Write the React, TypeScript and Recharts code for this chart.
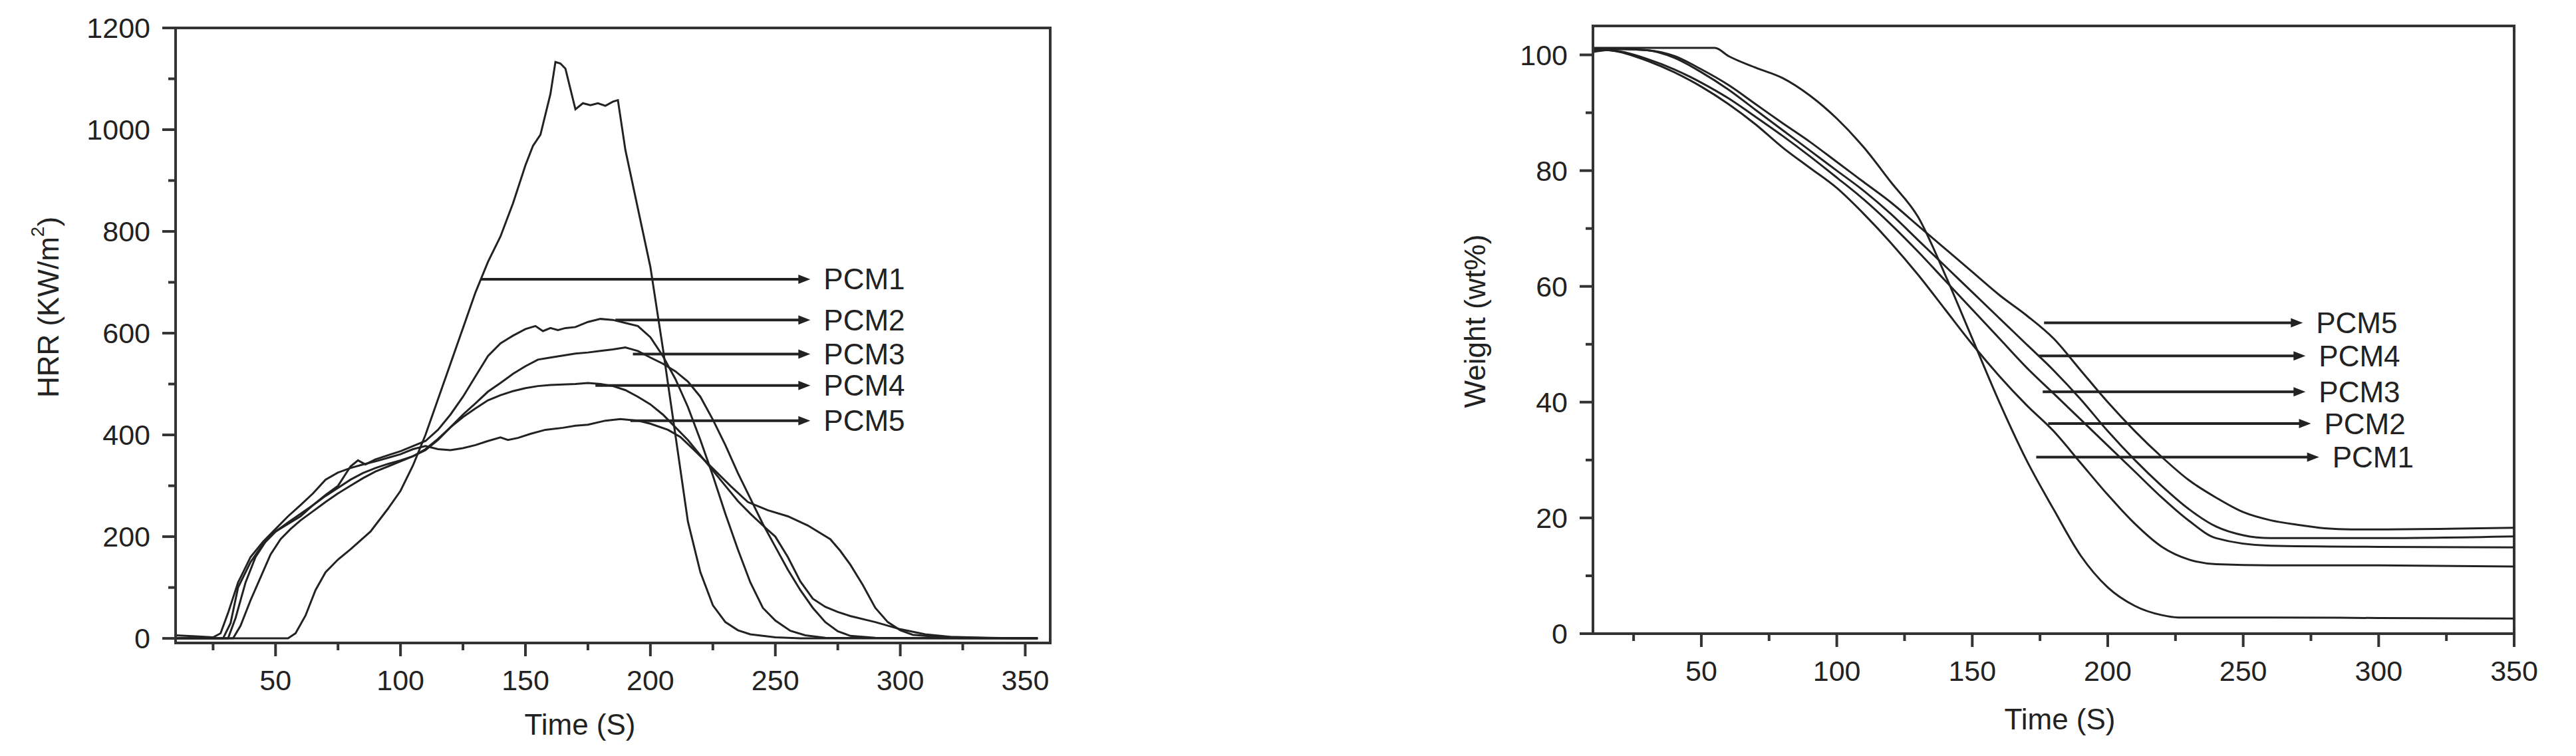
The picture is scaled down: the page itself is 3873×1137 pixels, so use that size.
import React from "react";
import { LineChart, Line, XAxis, YAxis, ReferenceLine, ReferenceArea } from "recharts";

const INK = "#222";
const AXIS = "#333";
const FONT = "'Liberation Sans', Arial, sans-serif";

// ---- HRR (left panel) ----
const pcm1HrrTime = [10, 55, 58, 62, 66, 70, 75, 80, 88, 95, 100, 105, 110, 115, 120, 125, 130, 135, 140, 145, 150, 153, 156, 160, 162, 164, 166, 168, 170, 173, 176, 179, 182, 185, 187, 190, 195, 200, 205, 210, 215, 220, 225, 230, 235, 240, 250, 260, 355];
const pcm1Hrr = [0, 0, 10, 45, 95, 130, 155, 175, 210, 255, 290, 340, 400, 470, 540, 610, 680, 740, 790, 855, 930, 968, 990, 1070, 1133, 1130, 1120, 1080, 1040, 1052, 1048, 1052, 1047, 1055, 1058, 960, 845, 730, 570, 400, 230, 130, 65, 32, 16, 8, 2, 0, 0];

const pcm2HrrTime = [10, 29, 32, 35, 40, 45, 50, 55, 60, 65, 70, 75, 80, 83, 86, 90, 95, 100, 105, 110, 115, 120, 125, 130, 135, 140, 145, 150, 154, 157, 160, 163, 166, 170, 175, 180, 185, 190, 195, 200, 205, 210, 215, 220, 225, 230, 235, 240, 245, 250, 256, 262, 270, 355];
const pcm2Hrr = [0, 0, 30, 100, 150, 185, 210, 225, 240, 262, 282, 300, 338, 350, 342, 352, 360, 368, 378, 388, 410, 440, 475, 515, 555, 580, 595, 608, 614, 604, 610, 606, 610, 612, 622, 628, 626, 620, 614, 592, 555, 510, 455, 390, 320, 245, 175, 110, 60, 35, 15, 6, 1, 0];

const pcm3HrrTime = [10, 33, 36, 40, 44, 48, 52, 56, 60, 65, 70, 75, 80, 85, 90, 95, 100, 105, 110, 115, 120, 125, 130, 135, 140, 145, 150, 155, 160, 165, 170, 175, 180, 185, 190, 195, 200, 205, 210, 215, 220, 225, 230, 235, 240, 245, 250, 255, 260, 265, 270, 275, 280, 290, 355];
const pcm3Hrr = [0, 0, 25, 75, 120, 165, 195, 215, 232, 250, 268, 285, 300, 315, 328, 338, 348, 358, 370, 390, 415, 440, 462, 485, 502, 520, 535, 548, 552, 556, 560, 562, 565, 568, 572, 565, 552, 540, 525, 505, 475, 430, 380, 325, 275, 225, 180, 135, 95, 60, 32, 14, 5, 1, 0];

const pcm4HrrTime = [10, 31, 34, 38, 42, 46, 50, 55, 60, 65, 70, 75, 80, 85, 90, 95, 100, 105, 110, 115, 120, 125, 130, 135, 140, 145, 150, 155, 160, 165, 170, 175, 180, 185, 190, 195, 200, 205, 210, 215, 220, 225, 230, 235, 240, 245, 250, 255, 260, 265, 270, 275, 280, 290, 300, 310, 320, 335, 355];
const pcm4Hrr = [0, 0, 40, 110, 160, 190, 210, 228, 245, 262, 280, 296, 312, 325, 335, 343, 350, 358, 372, 392, 415, 435, 452, 468, 478, 486, 492, 496, 498, 499, 500, 502, 500, 496, 488, 475, 460, 440, 415, 390, 360, 330, 300, 270, 245, 222, 200, 160, 112, 78, 62, 52, 44, 32, 18, 8, 3, 1, 0];

const pcm5HrrTime = [10, 18, 25, 28, 31, 35, 40, 45, 50, 55, 60, 65, 70, 75, 80, 85, 90, 95, 100, 105, 110, 115, 120, 125, 130, 135, 140, 143, 147, 152, 158, 165, 170, 175, 182, 188, 195, 200, 207, 212, 218, 225, 232, 239, 247, 255, 263, 272, 276, 280, 285, 290, 295, 300, 305, 315, 330, 355];
const pcm5Hrr = [6, 4, 2, 10, 50, 110, 160, 190, 215, 240, 262, 285, 312, 326, 335, 342, 348, 355, 362, 372, 378, 372, 370, 374, 380, 388, 395, 390, 394, 402, 410, 414, 418, 420, 428, 431, 428, 422, 410, 396, 368, 334, 300, 268, 252, 240, 222, 195, 172, 145, 105, 60, 32, 16, 7, 3, 1, 0];

// ---- Weight (right panel) ----
const pcm1WtTime = [10, 30, 55, 60, 70, 80, 90, 100, 110, 120, 130, 140, 150, 160, 170, 180, 190, 200, 210, 220, 226, 260, 300, 350];
const pcm1Wt = [101.2, 101.2, 101.2, 99.8, 97.8, 96, 93, 89, 84, 78, 72, 62, 51, 40, 30, 21.5, 13.5, 8, 4.8, 3.2, 2.8, 2.8, 2.7, 2.6];

const pcm23WtTime = [10, 20, 30, 40, 50, 60, 70, 80, 90, 100, 110, 120, 130, 140, 150, 160, 170, 180, 190, 200, 210, 220, 230, 240, 260, 300, 350];
const pcm2Wt = [101, 100.5, 99, 97, 94.5, 91.5, 88, 84, 80.5, 77, 72.5, 67.5, 62, 56, 50, 44.5, 39.5, 35, 29.5, 24, 19, 15, 12.8, 12, 11.8, 11.8, 11.6];
const pcm3Wt = [101, 100.6, 99.3, 97.5, 95.2, 92.5, 89.3, 86, 82.5, 78.8, 75, 70.7, 66, 61, 56, 51, 46, 41.5, 37, 32.5, 28, 23.5, 19.5, 16.5, 15.2, 15, 14.9];

const pcm4WtTime = [10, 20, 30, 40, 50, 60, 70, 80, 90, 100, 110, 120, 130, 140, 150, 160, 170, 180, 190, 200, 210, 220, 230, 240, 250, 260, 300, 350];
const pcm4Wt = [100.5, 101, 100.8, 99.5, 97, 94, 90.5, 87, 83.5, 80, 76.5, 72.5, 68, 63.5, 59, 54.5, 50, 45.5, 40.5, 35, 30, 25.5, 21.5, 18.5, 17, 16.5, 16.5, 16.8];

const pcm5WtTime = [10, 20, 30, 40, 50, 60, 70, 80, 90, 100, 110, 120, 130, 140, 150, 160, 170, 180, 190, 200, 210, 220, 230, 240, 250, 260, 270, 280, 290, 350];
const pcm5Wt = [100.8, 101, 100.8, 99.8, 97.5, 94.8, 91.5, 88.2, 85, 81.5, 78, 74.5, 70.5, 66.5, 62.5, 58.5, 55, 51, 45.5, 40, 35, 30.5, 26.5, 23.5, 21, 19.6, 18.8, 18.2, 18, 18.3];

// arrow annotations: label, value, start time, end time
const hrrLabels = ["PCM1", "PCM2", "PCM3", "PCM4", "PCM5"];
const hrrLabelY = [706, 626, 559, 497, 428];
const hrrLabelFrom = [132, 186, 193, 178, 192];
const hrrLabelTo = [264, 264, 264, 264, 264];

const wtLabels = ["PCM5", "PCM4", "PCM3", "PCM2", "PCM1"];
const wtLabelY = [53.7, 48, 41.8, 36.3, 30.5];
const wtLabelFrom = [176.5, 174.6, 176, 178, 173.6];
const wtLabelTo = [272, 273, 273, 275, 278];

const hrrXTicks = [25, 50, 75, 100, 125, 150, 175, 200, 225, 250, 275, 300, 325, 350];
const hrrYTicks = [0, 100, 200, 300, 400, 500, 600, 700, 800, 900, 1000, 1100, 1200];
const wtXTicks = [25, 50, 75, 100, 125, 150, 175, 200, 225, 250, 275, 300, 325, 350];
const wtYTicks = [0, 10, 20, 30, 40, 50, 60, 70, 80, 90, 100];

const zip = (t: number[], v: number[]) => t.map((x, i) => ({ t: x, v: v[i] }));

const textStyle = { fontFamily: FONT, fill: INK };

const XTick = ({ x, y, payload }: any) => {
  const major = payload.value % 50 === 0;
  return (
    <g>
      <line x1={x} y1={y} x2={x} y2={y + (major ? 20 : 11)} stroke={AXIS} strokeWidth={4} />
      {major && (
        <text x={x} y={y + 56} textAnchor="middle" dominantBaseline="central" fontSize={43} {...textStyle}>
          {payload.value}
        </text>
      )}
    </g>
  );
};

const makeYTick = (step: number) => ({ x, y, payload }: any) => {
  const major = payload.value % step === 0;
  return (
    <g>
      <line x1={x} y1={y} x2={x - (major ? 20 : 11)} y2={y} stroke={AXIS} strokeWidth={4} />
      {major && (
        <text x={x - 38} y={y} textAnchor="end" dominantBaseline="central" fontSize={43} {...textStyle}>
          {payload.value}
        </text>
      )}
    </g>
  );
};

const arrowShape = (label: string) => (props: any) => {
  const { x1, y1, x2, y2 } = props;
  return (
    <g>
      <line x1={x1} y1={y1} x2={x2 - 12} y2={y2} stroke={INK} strokeWidth={4} />
      <polygon points={`${x2},${y2} ${x2 - 18},${y2 - 7} ${x2 - 18},${y2 + 7}`} fill={INK} />
      <text x={x2 + 20} y={y2} dominantBaseline="central" fontSize={44} {...textStyle}>
        {label}
      </text>
    </g>
  );
};

const axisLine = { stroke: AXIS, strokeWidth: 4 };

const HrrChart = () => (
  <LineChart width={1640} height={1137} margin={{ top: 42, right: 61, left: 144, bottom: 50 }}>
    <XAxis
      dataKey="t"
      type="number"
      domain={[10, 360]}
      allowDataOverflow
      ticks={hrrXTicks}
      interval={0}
      height={120}
      tickSize={0}
      tickMargin={0}
      tickLine={false}
      axisLine={axisLine}
      tick={XTick}
      label={{
        content: () => (
          <text x={872} y={1089} textAnchor="middle" dominantBaseline="central" fontSize={44} {...textStyle}>
            Time (S)
          </text>
        ),
      }}
    />
    <YAxis
      type="number"
      domain={[-9, 1200]}
      allowDataOverflow
      ticks={hrrYTicks}
      interval={0}
      width={120}
      tickSize={0}
      tickMargin={0}
      tickLine={false}
      axisLine={axisLine}
      tick={makeYTick(200)}
      label={{
        content: () => (
          <text x={72} y={462} transform="rotate(-90 72 462)" textAnchor="middle" dominantBaseline="central" fontSize={44} {...textStyle}>
            HRR (KW/m<tspan dy={-16} fontSize={28}>2</tspan>
            <tspan dy={16}>)</tspan>
          </text>
        ),
      }}
    />
    <ReferenceArea x1={10} x2={360} y1={-9} y2={1200} fill="none" stroke={AXIS} strokeWidth={4} ifOverflow="visible" />
    <Line data={zip(pcm1HrrTime, pcm1Hrr)} dataKey="v" type="linear" stroke={INK} strokeWidth={3} dot={false} isAnimationActive={false} />
    <Line data={zip(pcm2HrrTime, pcm2Hrr)} dataKey="v" type="linear" stroke={INK} strokeWidth={3} dot={false} isAnimationActive={false} />
    <Line data={zip(pcm3HrrTime, pcm3Hrr)} dataKey="v" type="linear" stroke={INK} strokeWidth={3} dot={false} isAnimationActive={false} />
    <Line data={zip(pcm4HrrTime, pcm4Hrr)} dataKey="v" type="linear" stroke={INK} strokeWidth={3} dot={false} isAnimationActive={false} />
    <Line data={zip(pcm5HrrTime, pcm5Hrr)} dataKey="v" type="linear" stroke={INK} strokeWidth={3} dot={false} isAnimationActive={false} />
    {hrrLabels.map((lab, i) => (
      <ReferenceLine
        key={lab}
        segment={[{ x: hrrLabelFrom[i], y: hrrLabelY[i] }, { x: hrrLabelTo[i], y: hrrLabelY[i] }]}
        shape={arrowShape(lab)}
        ifOverflow="visible"
      />
    ))}
  </LineChart>
);

const WeightChart = () => (
  <LineChart width={1773} height={1137} margin={{ top: 39, right: 93, left: 175, bottom: 64 }}>
    <XAxis
      dataKey="t"
      type="number"
      domain={[10, 350]}
      allowDataOverflow
      ticks={wtXTicks}
      interval={0}
      height={120}
      tickSize={0}
      tickMargin={0}
      tickLine={false}
      axisLine={axisLine}
      tick={XTick}
      label={{
        content: () => (
          <text x={997} y={1081} textAnchor="middle" dominantBaseline="central" fontSize={44} {...textStyle}>
            Time (S)
          </text>
        ),
      }}
    />
    <YAxis
      type="number"
      domain={[0, 105]}
      allowDataOverflow
      ticks={wtYTicks}
      interval={0}
      width={120}
      tickSize={0}
      tickMargin={0}
      tickLine={false}
      axisLine={axisLine}
      tick={makeYTick(20)}
      label={{
        content: () => (
          <text x={117} y={483} transform="rotate(-90 117 483)" textAnchor="middle" dominantBaseline="central" fontSize={44} {...textStyle}>
            Weight (wt%)
          </text>
        ),
      }}
    />
    <ReferenceArea x1={10} x2={350} y1={0} y2={105} fill="none" stroke={AXIS} strokeWidth={4} ifOverflow="visible" />
    <Line data={zip(pcm1WtTime, pcm1Wt)} dataKey="v" type="monotone" stroke={INK} strokeWidth={3} dot={false} isAnimationActive={false} />
    <Line data={zip(pcm23WtTime, pcm2Wt)} dataKey="v" type="monotone" stroke={INK} strokeWidth={3} dot={false} isAnimationActive={false} />
    <Line data={zip(pcm23WtTime, pcm3Wt)} dataKey="v" type="monotone" stroke={INK} strokeWidth={3} dot={false} isAnimationActive={false} />
    <Line data={zip(pcm4WtTime, pcm4Wt)} dataKey="v" type="monotone" stroke={INK} strokeWidth={3} dot={false} isAnimationActive={false} />
    <Line data={zip(pcm5WtTime, pcm5Wt)} dataKey="v" type="monotone" stroke={INK} strokeWidth={3} dot={false} isAnimationActive={false} />
    {wtLabels.map((lab, i) => (
      <ReferenceLine
        key={lab}
        segment={[{ x: wtLabelFrom[i], y: wtLabelY[i] }, { x: wtLabelTo[i], y: wtLabelY[i] }]}
        shape={arrowShape(lab)}
        ifOverflow="visible"
      />
    ))}
  </LineChart>
);

export default function App() {
  return (
    <div style={{ position: "absolute", left: 0, top: 0, width: 3873, height: 1137, background: "#fff" }}>
      <div style={{ position: "absolute", left: 0, top: 0 }}>
        <HrrChart />
      </div>
      <div style={{ position: "absolute", left: 2100, top: 0 }}>
        <WeightChart />
      </div>
    </div>
  );
}
